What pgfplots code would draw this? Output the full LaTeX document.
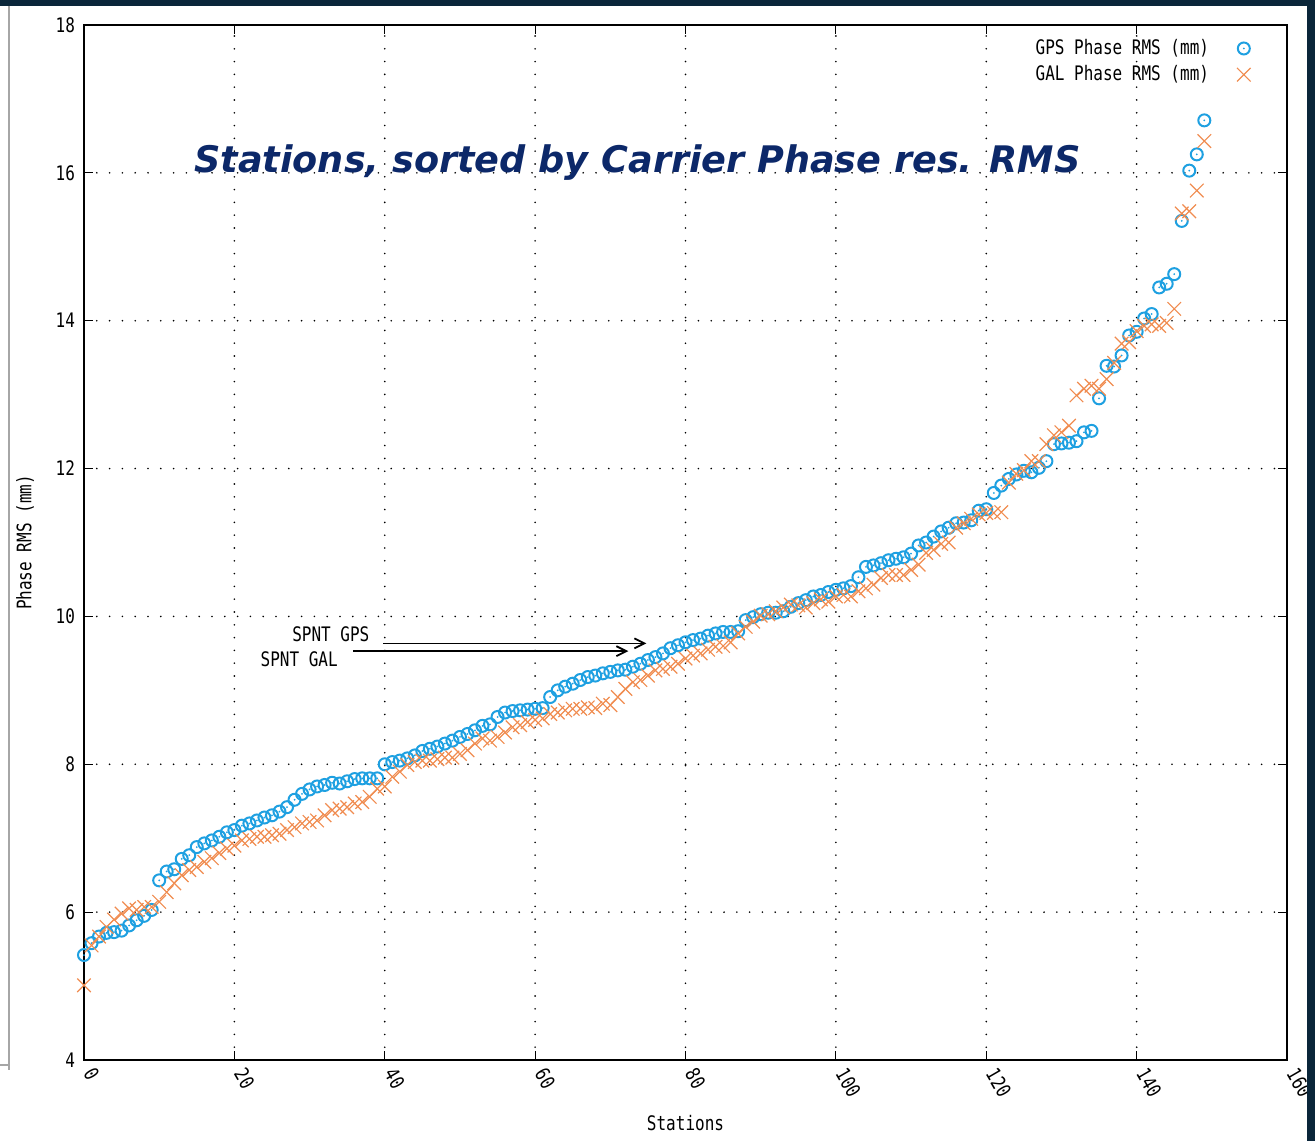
\documentclass[border=0pt]{standalone}
\usepackage{fontspec}
\setmainfont{DejaVu Sans Mono}[FakeStretch=0.8]
\newfontfamily\titlefont{DejaVu Sans}
\usepackage{pgfplots}
\pgfplotsset{compat=1.18}
\usepackage{pgfplotstable}
\usetikzlibrary{arrows.meta}
\definecolor{gpsblue}{RGB}{30,160,225}
\definecolor{galorange}{RGB}{240,140,80}
\definecolor{titlenavy}{RGB}{12,40,105}
\definecolor{framenavy}{RGB}{10,38,58}
\pgfdeclareplotmark{circdot}{%
  \pgfpathcircle{\pgfpointorigin}{\pgfplotmarksize}\pgfusepathqstroke
  \pgfpathcircle{\pgfpointorigin}{0.5pt}\pgfusepathqfill}

\pgfplotstableread{
st gps gal
0 5.42 5.01
1 5.58 5.55
2 5.67 5.67
3 5.72 5.80
4 5.73 5.90
5 5.75 5.98
6 5.82 6.05
7 5.89 6.03
8 5.95 6.07
9 6.03 6.07
10 6.43 6.14
11 6.55 6.27
12 6.58 6.39
13 6.72 6.50
14 6.77 6.57
15 6.88 6.61
16 6.93 6.68
17 6.97 6.73
18 7.02 6.80
19 7.08 6.86
20 7.11 6.90
21 7.17 6.97
22 7.20 6.99
23 7.24 7.02
24 7.28 7.02
25 7.31 7.04
26 7.36 7.06
27 7.42 7.11
28 7.52 7.15
29 7.60 7.20
30 7.66 7.22
31 7.70 7.24
32 7.72 7.31
33 7.75 7.38
34 7.74 7.40
35 7.77 7.42
36 7.80 7.47
37 7.81 7.49
38 7.81 7.56
39 7.81 7.67
40 8.00 7.70
41 8.03 7.83
42 8.05 7.90
43 8.08 7.99
44 8.12 8.03
45 8.18 8.05
46 8.21 8.05
47 8.24 8.07
48 8.28 8.09
49 8.32 8.09
50 8.37 8.14
51 8.41 8.19
52 8.46 8.28
53 8.52 8.35
54 8.54 8.32
55 8.64 8.37
56 8.70 8.43
57 8.72 8.50
58 8.73 8.53
59 8.74 8.57
60 8.75 8.60
61 8.76 8.62
62 8.91 8.68
63 9.00 8.70
64 9.05 8.73
65 9.09 8.75
66 9.14 8.75
67 9.18 8.77
68 9.20 8.76
69 9.23 8.82
70 9.25 8.80
71 9.27 8.91
72 9.28 9.02
73 9.32 9.11
74 9.36 9.14
75 9.41 9.20
76 9.45 9.27
77 9.50 9.29
78 9.57 9.32
79 9.61 9.36
80 9.65 9.43
81 9.68 9.47
82 9.70 9.50
83 9.74 9.55
84 9.77 9.59
85 9.79 9.60
86 9.79 9.65
87 9.80 9.77
88 9.95 9.86
89 9.99 9.93
90 10.03 10.01
91 10.05 10.03
92 10.05 10.07
93 10.07 10.12
94 10.13 10.16
95 10.18 10.15
96 10.22 10.12
97 10.27 10.18
98 10.29 10.23
99 10.33 10.20
100 10.36 10.27
101 10.38 10.29
102 10.41 10.27
103 10.53 10.34
104 10.67 10.38
105 10.69 10.43
106 10.72 10.52
107 10.76 10.56
108 10.78 10.56
109 10.80 10.56
110 10.85 10.63
111 10.96 10.70
112 11.00 10.86
113 11.08 10.90
114 11.15 10.98
115 11.20 11.00
116 11.26 11.20
117 11.27 11.26
118 11.30 11.32
119 11.43 11.38
120 11.45 11.40
121 11.67 11.40
122 11.77 11.41
123 11.86 11.81
124 11.92 11.93
125 11.97 11.98
126 11.95 12.10
127 12.01 12.10
128 12.10 12.33
129 12.33 12.45
130 12.34 12.49
131 12.35 12.58
132 12.37 12.99
133 12.49 13.08
134 12.51 13.12
135 12.95 13.08
136 13.39 13.21
137 13.38 13.43
138 13.53 13.69
139 13.80 13.71
140 13.85 13.86
141 14.03 13.93
142 14.09 13.95
143 14.45 13.93
144 14.50 13.97
145 14.63 14.16
146 15.35 15.45
147 16.03 15.48
148 16.25 15.76
149 16.71 16.43
}\rmsdata

\begin{document}
\begin{tikzpicture}[font=\fontsize{10}{12}\selectfont]
\path[use as bounding box] (-42pt,-40.5pt) rectangle (615.5pt,530pt);
\begin{axis}[
  at={(0,0)}, anchor=south west,
  scale only axis, width=601.5pt, height=517.5pt,
  xmin=0, xmax=160, ymin=4, ymax=18,
  xtick={0,20,...,160}, ytick={4,6,...,18},
  grid=major,
  major grid style={black, line width=0.9pt, line cap=round, dash pattern=on 0pt off 6.4pt},
  axis line style={black, line width=1pt},
  tick align=inside, major tick length=4.5pt,
  every tick/.style={black, line width=0.5pt},
  /pgf/number format/assume math mode=true,
  xticklabel style={xshift=2pt, yshift=-4pt, rotate=-60, anchor=west, inner sep=1pt},
  yticklabel style={xshift=-1pt},
  xlabel={Stations},
  xlabel style={at={(axis description cs:0.5,0)}, anchor=center, yshift=-31.5pt},
  ylabel={Phase RMS (mm)},
  ylabel style={at={(axis description cs:-0.049,0.5)}, anchor=center},
  legend style={at={(1,1)}, anchor=north east, draw=none, fill=none,
    xshift=-17pt, yshift=-4pt, row sep=0pt, inner sep=1pt, /tikz/column sep=12pt},
  legend cell align=right,
  legend plot pos=right,
]
\addplot[only marks, mark=circdot, mark size=3pt, gpsblue, line width=1pt]
  table[x=st, y=gps] {\rmsdata};
\addlegendentry{GPS Phase RMS (mm)}
\addplot[only marks, mark=x, mark size=4.8pt, galorange, line width=0.6pt]
  table[x=st, y=gal] {\rmsdata};
\addlegendentry{GAL Phase RMS (mm)}
\draw[black, line width=0.9pt, -{Straight Barb[length=5pt,width=5pt]}]
  (axis cs:39.8,9.635) -- (axis cs:74.8,9.635);
\draw[black, line width=0.9pt, -{Straight Barb[length=5pt,width=5pt]}]
  (axis cs:35.8,9.53) -- (axis cs:72.4,9.53);
\node[anchor=east, inner sep=0pt] at (axis cs:38.0,9.76) {SPNT GPS};
\node[anchor=east, inner sep=0pt] at (axis cs:33.8,9.42) {SPNT GAL};
\end{axis}
\node[anchor=base, text=titlenavy, inner sep=0pt] at (276.75pt,443.5pt)
  {\titlefont\fontsize{18.3}{22}\selectfont\bfseries\itshape Stations, sorted by Carrier Phase res. RMS};
\fill[framenavy] (-42pt,527pt) rectangle (615.5pt,530pt);
\fill[framenavy] (611.5pt,-40.5pt) rectangle (615.5pt,530pt);
\draw[gray!70, line width=0.6pt] (-37.5pt,527pt) -- (-37.5pt,-5pt);
\draw[gray!70, line width=0.6pt] (-42pt,-2.5pt) -- (-37.5pt,-2.5pt);
\end{tikzpicture}
\end{document}
